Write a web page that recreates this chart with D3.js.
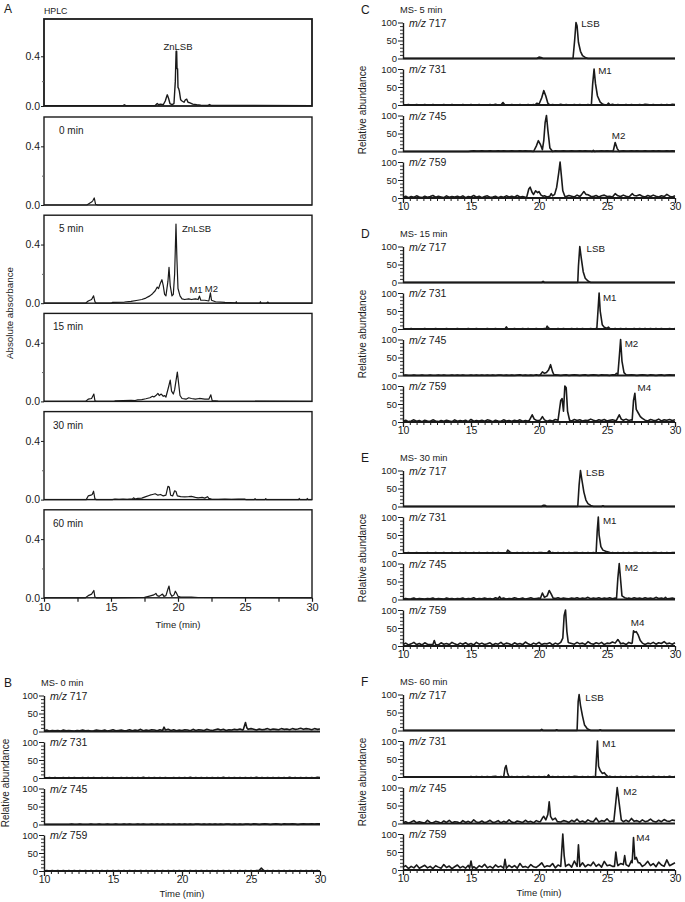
<!DOCTYPE html>
<html><head><meta charset="utf-8">
<script src="https://cdn.jsdelivr.net/npm/d3@7"></script>
<style>
body{margin:0;background:#fff}
svg{display:block}
text{font-family:"Liberation Sans",Arial,Helvetica,sans-serif;fill:#1a1a1a}
</style>
</head><body>
<svg id="chart" width="685" height="902"></svg>
<script>
// ================= DATA =================
// Panel A: HPLC traces, [time (min), absolute absorbance]
const hplcStandard = [[10,0.003],[15.9,0.003],[16.0,0.01],[16.1,0.003],[18.3,0.004],[18.45,0.02],[18.55,0.01],[18.7,0.015],[18.9,0.01],[19.05,0.04],[19.15,0.075],[19.2,0.09],[19.3,0.06],[19.4,0.02],[19.55,0.012],[19.7,0.02],[19.8,0.2],[19.86,0.44],[19.9,0.44],[19.93,0.3],[19.97,0.3],[20.0,0.15],[20.05,0.14],[20.1,0.12],[20.2,0.05],[20.3,0.04],[20.45,0.03],[20.55,0.05],[20.65,0.055],[20.75,0.03],[20.9,0.025],[21.1,0.015],[21.4,0.01],[21.7,0.006],[22.2,0.004],[22.35,0.012],[22.5,0.004],[30,0.003]];
const hplc0 = [[10,0],[13.2,0],[13.4,0.012],[13.55,0.02],[13.65,0.03],[13.75,0.048],[13.85,0.005],[14,0],[30,0]];
const hplc5 = [[10,0],[13.1,0],[13.3,0.015],[13.55,0.025],[13.7,0.05],[13.8,0.01],[13.9,0],[15.0,0],[15.1,0.005],[16,0.008],[16.5,0.012],[17.0,0.02],[17.3,0.025],[17.6,0.035],[17.9,0.05],[18.1,0.065],[18.3,0.085],[18.45,0.11],[18.55,0.1],[18.7,0.14],[18.8,0.16],[18.9,0.12],[19.0,0.06],[19.1,0.05],[19.25,0.15],[19.33,0.245],[19.42,0.12],[19.55,0.05],[19.65,0.06],[19.75,0.2],[19.85,0.54],[19.92,0.3],[20.0,0.1],[20.15,0.05],[20.3,0.03],[20.5,0.025],[20.8,0.03],[21.0,0.025],[21.3,0.03],[21.5,0.025],[21.6,0.048],[21.7,0.02],[22.0,0.02],[22.3,0.015],[22.42,0.07],[22.5,0.02],[22.8,0.01],[23.5,0.005],[24.3,0.003],[24.35,0.01],[24.4,0],[26.1,0],[26.15,0.01],[26.2,0],[26.6,0],[26.7,0.008],[26.8,0],[30,0]];
const hplc15 = [[10,0],[13.1,0],[13.3,0.015],[13.55,0.02],[13.72,0.05],[13.8,0.005],[13.9,0],[15.2,0],[15.3,0.003],[16.5,0.008],[16.8,0.006],[17.0,0.01],[17.3,0.012],[17.6,0.018],[17.9,0.025],[18.1,0.035],[18.2,0.03],[18.35,0.04],[18.5,0.055],[18.6,0.04],[18.75,0.05],[18.9,0.035],[19.0,0.04],[19.1,0.03],[19.3,0.1],[19.42,0.145],[19.52,0.07],[19.65,0.05],[19.75,0.08],[19.95,0.2],[20.05,0.12],[20.15,0.04],[20.3,0.02],[20.6,0.015],[20.8,0.025],[21.0,0.02],[21.3,0.015],[21.6,0.02],[22.0,0.015],[22.3,0.015],[22.45,0.045],[22.55,0.005],[23,0.002],[30,0]];
const hplc30 = [[10,0],[13.15,0],[13.3,0.025],[13.5,0.03],[13.6,0.035],[13.7,0.057],[13.8,0.005],[13.9,0],[15.1,0],[15.3,0.004],[15.6,0.001],[15.9,0.004],[16.2,0.001],[16.6,0.005],[16.7,0.012],[16.8,0.004],[17.0,0.008],[17.3,0.01],[17.6,0.02],[17.9,0.03],[18.1,0.035],[18.3,0.04],[18.5,0.03],[18.7,0.035],[18.9,0.025],[19.1,0.03],[19.25,0.09],[19.35,0.085],[19.45,0.03],[19.6,0.025],[19.75,0.06],[19.85,0.055],[19.95,0.025],[20.2,0.02],[20.5,0.018],[20.8,0.02],[21.0,0.022],[21.3,0.015],[21.5,0.012],[21.8,0.015],[22.0,0.01],[22.2,0.02],[22.3,0.008],[22.5,0.004],[23.0,0.001],[23.5,0.004],[24.0,0.001],[24.5,0.004],[25,0.003],[25.05,0],[25.7,0],[25.75,0.006],[25.8,0],[26.5,0],[26.55,0.006],[26.6,0],[29.0,0],[29.05,0.008],[29.1,0],[29.6,0],[29.65,0.008],[29.7,0],[30,0]];
const hplc60 = [[10,0],[13.1,0],[13.3,0.015],[13.55,0.025],[13.72,0.05],[13.8,0.005],[13.9,0],[15,0],[17.5,0.003],[17.8,0.01],[18.0,0.015],[18.2,0.02],[18.35,0.03],[18.45,0.015],[18.6,0.01],[18.75,0.02],[18.85,0.025],[18.95,0.01],[19.1,0.015],[19.25,0.06],[19.33,0.08],[19.42,0.03],[19.55,0.01],[19.7,0.02],[19.8,0.045],[19.9,0.03],[20.0,0.01],[20.2,0.005],[21.0,0.005],[21.5,0.002],[30,0]];
const hplcTags = ["", "0 min", "5 min", "15 min", "30 min", "60 min"];
const aTickLabels = [10, 15, 20, 25, 30];

// MS traces: baseline values on an even 10-30 min grid + peak segments [time, relative abundance %]
const b717Base = [2,4,1,3,2,3,1,4,2,3,2,1,3,2,4,2,3,1,2,4,3,2,4,1,3,5,2,3,4,2,3,5,2,4,3,6,2,4,3,5,4,2,5,3,4,6,3,5,2,4,3,5,4,2,6,3,5,4,3,6,4,3,5,7,4,6,3,5,4,6,5,7,4,6,5,8,6,4,7,5,6,8,5,7,6,5,8,6,7,5,8,6,7,9,6,8,7,5,8,6,7];
const b717Peaks = [[[18.6,3],[18.7,12],[18.8,4]],[[24.45,6],[24.6,25],[24.7,10],[24.8,6]]];
const b731Base = [1,0,1,0,1,0,0,1,0,1,0,1,0,0,1,0,1,0,1,0,0,1,0,1,0,1,0,0,1,0,1,0,1,0,1,0,2,0,1,0,1,0,1,0,1,0,0,1,0,1,0,1,0,2,0,1,0,1,0,1,0,1,0,1,0,2,0,1,0,1,0,1,0,1,0,1,0,2,0,1,0,1,0,1,0,1,0,1,0,2,0,1,0,1,0,1,0,1,0,2,1];
const b731Peaks = [];
const b745Base = [0,0,0,0,0,0,0,0,0,0,1,0,0,1,0,0,0,1,0,0,1,0,0,1,0,0,1,0,0,1,0,1,0,0,1,0,1,0,0,1,0,1,0,1,0,1,0,1,0,1,0,1,0,1,0,1,1,0,1,0,1,0,1,0,1,0,1,1,0,1,0,1,0,1,1,0,2,1,0,1,2,1,0,1,2,1,0,2,1,1,2,1,0,1,2,1,1,2,1,2,2];
const b745Peaks = [];
const b759Base = [0,1,0,1,0,1,0,1,0,1,0,1,0,1,0,1,0,1,0,1,0,1,0,1,0,1,0,1,0,1,0,1,0,1,0,1,0,1,0,1,0,1,0,1,0,1,0,1,0,1,0,1,0,1,0,1,0,1,0,1,0,1,0,1,0,1,0,1,0,1,0,1,0,1,0,1,0,1,0,1,0,1,0,1,0,1,0,1,0,1,0,1,0,1,0,1,0,1,0,1,0];
const b759Peaks = [[[25.6,2],[25.75,8],[25.9,2]]];

const c717Base = [0,0];
const c717Peaks = [[[19.85,0],[20.0,4],[20.15,3],[20.3,0]],[[22.5,0],[22.62,50],[22.72,100],[22.8,90],[22.9,45],[23.05,20],[23.2,8],[23.4,3],[23.6,0]]];
const c731Base = [1,0,1,0,0,1,0,0,1,0,0,1,0,0,0,1,0,0,1,0,0,0,1,0,0,1,0,0,1,0,0,0,1,0,2,0,0,1,0,0,1,0,0,1,0,0,1,0,1,0,1,0,0,1,0,1,0,0,2,0,1,0,0,1,0,1,0,0,1,0,1,0,1,0,0,1,0,2,0,1,0,0,1,0,1,0,0,1,0,2,1,0,1,0,0,1,0,1,0,2,1];
const c731Peaks = [[[17.2,0],[17.35,7],[17.5,0]],[[19.7,0],[19.85,5],[20.0,2],[20.2,20],[20.35,40],[20.5,25],[20.65,5],[20.8,0]],[[23.85,0],[23.95,60],[24.05,100],[24.15,60],[24.3,25],[24.5,8],[24.7,2],[24.9,0]],[[25.0,0],[25.1,5],[25.25,0]]];
const c745Base = [0,0,0,0,0,0,0,0,0,0,0,0,0,0,0,0,0,0,0,0,0,0,0,0,0,1,2,1,1,2,1,1,2,1,1,2,1,2,1,1,2,1,1,2,1,2,1,1,2,1,1,2,1,1,2,1,2,1,1,2,1,1,2,1,1,2,1,2,1,1,2,1,1,2,1,2,1,1,2,1,1,2,1,1,2,1,2,1,1,2,1,1,2,1,2,1,1,2,1,2,1];
const c745Peaks = [[[19.6,0],[19.8,15],[19.95,30],[20.1,20],[20.25,5],[20.35,30],[20.45,80],[20.55,100],[20.65,60],[20.8,10],[21.0,0]],[[23.9,0],[24.0,3],[24.1,0]],[[25.45,0],[25.6,25],[25.75,8],[25.9,0]]];
const c759Base = [2,5,1,4,2,6,3,1,5,2,4,7,2,5,3,1,6,2,4,3,5,2,6,1,4,3,7,2,5,1,4,6,2,3,5,1,4,2,6,3,5,2,7,3,4,2,5,8,3,5,4,2,6,3,7,4,5,8,3,6,4,7,5,3,8,4,6,3,9,5,4,7,3,6,8,4,5,3,12,6,4,8,5,3,7,4,6,9,5,3,7,4,8,5,3,6,4,10,5,3,6];
const c759Peaks = [[[19.1,3],[19.25,25],[19.35,30],[19.5,15],[19.6,10],[19.75,20],[19.9,15],[20.0,18],[20.15,8],[20.3,5]],[[20.8,5],[20.9,12],[21.0,6],[21.15,10],[21.3,30],[21.45,70],[21.55,100],[21.65,60],[21.75,20],[21.9,5]],[[23.1,8],[23.3,18],[23.45,10]],[[26.7,6],[26.85,12],[27.0,7]]];

const d717Base = [0,0];
const d717Peaks = [[[20.2,0],[20.3,3],[20.4,0]],[[22.85,0],[22.9,45],[23.0,100],[23.1,70],[23.25,30],[23.4,12],[23.6,4],[23.8,0]]];
const d731Base = [0,0,0,1,0,0,0,0,1,0,0,0,1,0,0,0,1,0,0,0,1,0,0,0,1,0,0,1,0,0,0,1,0,0,1,0,0,0,1,0,0,1,0,0,1,0,1,0,0,1,0,0,1,0,1,0,0,1,0,1,0,0,1,0,1,0,1,0,0,1,0,1,0,1,0,0,1,0,1,0,1,0,1,0,0,1,0,1,0,1,0,1,0,1,0,1,0,0,1,0,1];
const d731Peaks = [[[17.5,0],[17.6,6],[17.7,0]],[[20.5,0],[20.6,8],[20.7,3],[20.8,0]],[[24.25,0],[24.32,40],[24.42,100],[24.5,50],[24.65,12],[24.8,5],[25.0,2],[25.1,5],[25.25,0]]];
const d745Base = [0,1,0,0,1,0,0,1,0,0,1,0,0,1,0,1,0,0,1,0,1,0,1,0,0,1,0,1,0,1,0,1,0,1,0,1,1,0,1,0,1,0,1,2,0,1,0,1,0,2,0,1,2,0,1,0,2,1,0,1,2,0,1,2,1,0,1,2,0,1,2,1,0,2,1,1,0,2,1,0,1,2,0,1,2,1,0,1,2,1,0,2,1,0,1,2,0,1,2,1,1];
const d745Peaks = [[[20.1,2],[20.25,10],[20.4,6],[20.55,8],[20.7,15],[20.85,30],[21.0,10],[21.1,2]],[[25.6,2],[25.7,6],[25.8,3],[25.9,50],[26.0,100],[26.1,40],[26.25,8],[26.4,2]]];
const d759Base = [2,5,1,3,6,2,4,1,5,3,2,6,3,1,4,2,5,3,1,6,2,4,3,5,1,7,2,4,3,5,2,6,4,1,5,3,2,6,3,4,2,5,3,6,2,4,3,7,2,5,4,3,6,2,5,3,7,4,3,6,4,5,3,7,4,6,3,5,4,8,5,3,6,4,7,3,5,6,4,7,3,5,8,4,6,3,7,5,4,6,3,7,5,4,8,3,6,5,7,4,6];
const d759Peaks = [[[19.3,5],[19.5,20],[19.65,8]],[[20.1,6],[20.25,15],[20.4,6]],[[21.4,5],[21.6,60],[21.7,65],[21.8,30],[21.9,100],[22.0,95],[22.1,30],[22.25,5]],[[25.7,5],[25.9,20],[26.05,8]],[[26.85,5],[26.95,60],[27.05,80],[27.15,35],[27.3,25],[27.45,15],[27.6,10],[27.8,5]]];

const e717Base = [0,0];
const e717Peaks = [[[20.2,0],[20.3,3],[20.45,3],[20.55,0]],[[22.85,0],[22.95,60],[23.05,100],[23.15,75],[23.3,40],[23.45,18],[23.6,8],[23.8,3],[24.0,0]],[[24.6,0],[24.7,2],[24.8,0]]];
const e731Base = [0,0,1,0,0,1,0,0,0,1,0,0,1,0,0,1,0,0,1,0,0,1,0,1,0,0,1,0,1,0,0,1,0,1,0,1,0,0,1,0,1,0,1,0,1,0,1,0,1,0,1,1,0,1,0,1,0,1,0,1,0,1,0,1,1,0,1,0,1,0,1,0,1,0,1,1,0,1,0,1,0,1,0,1,0,1,1,0,1,0,1,0,1,1,0,1,0,1,0,1,1];
const e731Peaks = [[[17.6,0],[17.7,8],[17.85,3],[18.0,0]],[[20.6,0],[20.75,6],[20.9,0]],[[24.2,0],[24.28,60],[24.36,100],[24.42,50],[24.55,18],[24.7,8],[24.9,5],[25.1,3],[25.3,0]]];
const e745Base = [1,3,1,2,4,1,3,2,1,3,2,4,1,3,2,1,4,2,3,1,3,2,4,1,3,2,5,1,3,2,4,2,3,1,5,2,3,4,1,3,2,5,3,2,4,1,3,5,2,3,4,2,5,3,2,4,3,5,2,4,3,2,4,3,5,2,4,3,6,2,4,3,5,2,4,3,5,2,4,3,5,2,3,4,2,5,3,4,2,5,3,4,2,6,3,4,2,5,3,4,2];
const e745Peaks = [[[17.0,2],[17.1,8],[17.2,2]],[[20.1,3],[20.25,18],[20.4,6],[20.6,10],[20.75,25],[20.9,15],[21.05,3]],[[25.7,3],[25.8,60],[25.9,100],[26.0,55],[26.1,10],[26.3,5],[26.5,3]],[[29.2,2],[29.3,6],[29.4,2]]];
const e759Base = [4,8,3,6,10,4,7,3,9,5,4,8,6,3,9,5,7,4,10,6,3,8,5,9,4,7,3,10,5,8,4,6,9,3,7,5,10,4,8,6,3,9,5,7,4,11,6,3,8,5,10,4,7,6,9,3,8,5,11,6,4,9,7,5,10,6,8,4,12,7,5,9,6,10,4,8,7,11,5,9,6,8,4,10,7,5,9,6,11,4,8,6,10,5,9,7,12,6,8,5,9];
const e759Peaks = [[[12.2,4],[12.3,15],[12.4,4]],[[21.6,10],[21.75,22],[21.85,85],[21.95,100],[22.05,40],[22.15,10]],[[25.6,8],[25.8,18],[25.95,10]],[[26.85,8],[26.95,42],[27.05,38],[27.15,40],[27.3,30],[27.45,15],[27.6,8]]];

const f717Base = [0,0];
const f717Peaks = [[[20.1,0],[20.2,3],[20.3,0]],[[21.2,0],[21.3,2],[21.4,0]],[[22.8,0],[22.88,80],[22.95,100],[23.05,70],[23.2,40],[23.35,15],[23.55,5],[23.8,0]],[[24.4,0],[24.5,2],[24.6,0]]];
const f731Base = [0,0,0,0,0,0,0,0,0,0,0,0,0,0,0,0,0,0,0,0,0,0,0,0,0,1,0,1,0,1,0,1,0,1,2,0,1,0,1,0,1,0,1,0,1,0,2,0,1,0,1,0,1,0,2,1,0,1,0,1,0,1,0,2,1,0,1,0,1,0,1,0,1,0,1,0,2,0,1,0,1,0,1,0,1,0,2,0,1,0,1,0,2,0,1,0,1,0,2,0,1];
const f731Peaks = [[[17.4,0],[17.5,25],[17.58,32],[17.68,12],[17.8,0]],[[20.6,0],[20.7,6],[20.8,0]],[[24.15,0],[24.22,50],[24.3,100],[24.38,30],[24.5,18],[24.65,10],[24.8,12],[24.95,5],[25.1,0]]];
const f745Base = [2,5,1,4,8,2,5,3,1,9,3,2,6,4,1,7,3,9,2,5,4,1,8,3,6,2,10,4,3,7,2,5,9,3,4,8,2,6,3,10,4,2,7,5,3,9,4,6,2,8,5,3,10,4,7,3,12,5,4,8,6,3,9,5,12,4,7,3,10,6,5,15,4,8,6,13,5,7,4,12,6,4,9,5,14,6,8,4,10,5,7,12,6,4,9,5,11,7,6,10,8];
const f745Peaks = [[[20.1,5],[20.25,15],[20.35,20],[20.5,10],[20.65,25],[20.75,60],[20.85,20],[21.0,10],[21.2,15],[21.35,5]],[[25.5,5],[25.65,60],[25.75,100],[25.85,70],[25.95,40],[26.05,10],[26.2,5]]];
const f759Base = [8,12,4,10,6,14,5,9,13,6,10,4,12,8,5,15,7,11,4,9,14,6,10,5,13,7,9,4,12,8,16,6,10,5,14,8,11,6,9,13,7,12,5,18,8,10,6,15,9,7,13,20,8,12,10,18,6,14,22,9,12,16,8,25,10,14,20,9,15,12,22,10,16,8,24,12,14,10,28,12,18,15,22,10,26,14,12,20,10,15,24,12,18,9,22,14,10,28,12,16,20];
const f759Peaks = [[[14.9,5],[15.0,25],[15.1,5]],[[17.4,5],[17.5,30],[17.6,5]],[[21.6,10],[21.75,100],[21.85,40],[21.95,10]],[[22.8,10],[22.9,70],[23.0,10]],[[25.55,10],[25.65,50],[25.75,20]],[[26.2,15],[26.3,40],[26.4,15]],[[26.85,20],[26.95,90],[27.05,30],[27.15,35],[27.3,20]]];

const msIons = ["717", "731", "745", "759"];
const msYTicks = [0, 50, 100];
const msXTicks = [10, 15, 20, 25, 30];

// peak labels: [row, text, time, abundance]
const cPeakLabels = [[0,"LSB",23.1,97],[1,"M1",24.35,95],[2,"M2",25.35,45]];
const dPeakLabels = [[0,"LSB",23.5,95],[1,"M1",24.7,88],[2,"M2",26.3,90],[3,"M4",27.25,97]];
const ePeakLabels = [[0,"LSB",23.45,95],[1,"M1",24.7,90],[2,"M2",26.3,88],[3,"M4",26.75,64]];
const fPeakLabels = [[0,"LSB",23.4,92],[1,"M1",24.65,93],[2,"M2",26.2,90],[3,"M4",27.15,89]];
const bPeakLabels = [];
// HPLC labels: [panel index, text, time, absorbance, anchor]
const hplcPeakLabels = [[0,"ZnLSB",20.0,0.48,"middle"],[2,"ZnLSB",20.3,0.51,"start"],[2,"M1",20.85,0.095,"start"],[2,"M2",22.0,0.1,"start"]];

// ================= DRAWING =================
const svg = d3.select("#chart");
const ink = "#1a1a1a";

function buildTrace(base, groups){
  const n = base.length;
  let pts = base.map((v,i)=>[10 + i*20/(n-1), v]);
  groups.forEach(g=>{
    const a = g[0][0], b = g[g.length-1][0];
    pts = pts.filter(p=>p[0] < a || p[0] > b).concat(g);
  });
  return pts.sort((p,q)=>p[0]-q[0]);
}

// ---------- Panel A ----------
const xA = d3.scaleLinear().domain([10,30]).range([44,312]);
const hplcSeries = [hplcStandard, hplc0, hplc5, hplc15, hplc30, hplc60];
const aBoxes = [{top:19,bottom:106,ymax:0.7}];
for(let k=0;k<5;k++) aBoxes.push({top:117+k*98.2, bottom:205+k*98.2, ymax:0.6});
const tagX = [0,59,59,53,53,53];

svg.append("text").attr("x",4).attr("y",13).attr("font-size",12).text("A");
svg.append("text").attr("x",44).attr("y",14).attr("font-size",8.8).text("HPLC");

aBoxes.forEach((b,k)=>{
  const y = d3.scaleLinear().domain([0,b.ymax]).range([b.bottom,b.top]);
  const g = svg.append("g");
  g.append("rect").attr("x",xA(10)).attr("y",b.top).attr("width",xA(30)-xA(10)).attr("height",b.bottom-b.top)
    .attr("fill","none").attr("stroke",ink).attr("stroke-width",k===0?1.8:1.4);
  const ax = g.append("g").attr("transform",`translate(${xA(10)},0)`)
    .call(d3.axisLeft(y).tickValues([0,0.4]).tickFormat(d3.format(".1f")).tickSize(3).tickPadding(1));
  ax.select(".domain").remove();
  ax.selectAll("text").attr("font-size",10.5).attr("fill",ink).style("font-family","'Liberation Sans',Arial,sans-serif");
  ax.selectAll("line").attr("stroke",ink);
  const ax2 = g.append("g").attr("transform",`translate(${xA(10)},0)`)
    .call(d3.axisLeft(y).tickValues([0.2]).tickFormat("").tickSize(2));
  ax2.select(".domain").remove(); ax2.selectAll("line").attr("stroke","#666");
  g.append("path").datum(hplcSeries[k])
    .attr("d", d3.line().x(d=>xA(d[0])).y(d=>y(d[1])))
    .attr("fill","none").attr("stroke",ink).attr("stroke-width",k===0?1.4:1.2).attr("stroke-linejoin","round");
  if(hplcTags[k]) g.append("text").attr("x",tagX[k]).attr("y",b.top+17).attr("font-size",10).text(hplcTags[k]);
  hplcPeakLabels.filter(l=>l[0]===k).forEach(l=>{
    g.append("text").attr("x",xA(l[2])).attr("y",y(l[3])).attr("dy","0.35em")
      .attr("text-anchor",l[4]).attr("font-size",9.5).text(l[1]);
  });
  if(k===5){
    const xa = g.append("g").attr("transform",`translate(0,${b.bottom})`)
      .call(d3.axisBottom(xA).tickValues(d3.range(10,30.01,2.5)).tickSize(4).tickPadding(1)
        .tickFormat(d=> aTickLabels.includes(d) ? d : ""));
    xa.select(".domain").remove();
    xa.selectAll("text").attr("font-size",11).attr("fill",ink).style("font-family","'Liberation Sans',Arial,sans-serif");
    xa.selectAll("line").attr("stroke",ink).attr("stroke-width",1.2);
  }
});
svg.append("text").attr("x",178).attr("y",628).attr("text-anchor","middle").attr("font-size",9.5).text("Time (min)");
svg.append("text").attr("transform","translate(13,313) rotate(-90)").attr("text-anchor","middle").attr("font-size",9.8).text("Absolute absorbance");

// ---------- MS panels ----------
const msPanels = [
  {letter:"B", title:"MS- 0 min", x0:44, x1:320, bottom:871, lx:4, ylx:9,
   traces:[[b717Base,b717Peaks],[b731Base,b731Peaks],[b745Base,b745Peaks],[b759Base,b759Peaks]], labels:bPeakLabels, time:true},
  {letter:"C", title:"MS- 5 min", x0:403, x1:675, bottom:198, lx:361, ylx:366,
   traces:[[c717Base,c717Peaks],[c731Base,c731Peaks],[c745Base,c745Peaks],[c759Base,c759Peaks]], labels:cPeakLabels},
  {letter:"D", title:"MS- 15 min", x0:403, x1:675, bottom:422, lx:361, ylx:366,
   traces:[[d717Base,d717Peaks],[d731Base,d731Peaks],[d745Base,d745Peaks],[d759Base,d759Peaks]], labels:dPeakLabels},
  {letter:"E", title:"MS- 30 min", x0:403, x1:675, bottom:646, lx:361, ylx:366,
   traces:[[e717Base,e717Peaks],[e731Base,e731Peaks],[e745Base,e745Peaks],[e759Base,e759Peaks]], labels:ePeakLabels},
  {letter:"F", title:"MS- 60 min", x0:403, x1:675, bottom:870, lx:361, ylx:366,
   traces:[[f717Base,f717Peaks],[f731Base,f731Peaks],[f745Base,f745Peaks],[f759Base,f759Peaks]], labels:fPeakLabels, time:true}
];
const pitch = 46.5, rowH = 36;

msPanels.forEach(p=>{
  const x = d3.scaleLinear().domain([10,30]).range([p.x0,p.x1]);
  const g = svg.append("g");
  const topRow = p.bottom - 3*pitch - rowH;
  g.append("text").attr("x",p.lx).attr("y",topRow-9).attr("font-size",12).text(p.letter);
  g.append("text").attr("x",p.x0-3).attr("y",topRow-10).attr("font-size",9.3).text(p.title);
  g.append("text").attr("transform",`translate(${p.ylx},${p.bottom-88}) rotate(-90)`)
    .attr("text-anchor","middle").attr("font-size",10).text("Relative abundance");
  p.traces.forEach((tr,r)=>{
    const base = p.bottom - (3-r)*pitch;
    const y = d3.scaleLinear().domain([0,100]).range([base, base-rowH]);
    const data = buildTrace(tr[0], tr[1]);
    g.append("path").datum(data)
      .attr("d", d3.line().x(d=>x(d[0])).y(d=>y(d[1])))
      .attr("fill","none").attr("stroke",ink).attr("stroke-width",1.6).attr("stroke-linejoin","round");
    // baseline axis
    g.append("line").attr("x1",x(10)).attr("x2",x(30)).attr("y1",base).attr("y2",base)
      .attr("stroke",ink).attr("stroke-width",1.8);
    // y axis ruler
    const minor = g.append("g").attr("transform",`translate(${x(10)},0)`)
      .call(d3.axisLeft(y).tickValues(d3.range(10,100,10).filter(v=>v!==50)).tickFormat("").tickSize(3).tickSizeOuter(0));
    minor.select(".domain").remove(); minor.selectAll("line").attr("stroke",ink).attr("stroke-width",0.9);
    const ya = g.append("g").attr("transform",`translate(${x(10)},0)`)
      .call(d3.axisLeft(y).tickValues(msYTicks).tickSize(5).tickSizeOuter(0).tickPadding(1));
    ya.select(".domain").attr("stroke",ink).attr("stroke-width",1.4);
    ya.selectAll("line").attr("stroke",ink);
    ya.selectAll("text").attr("font-size",9.5).attr("fill",ink).style("font-family","'Liberation Sans',Arial,sans-serif");
    const lab = g.append("text").attr("x",x(10)+6).attr("y",y(100)+4).attr("font-size",10.5);
    lab.append("tspan").attr("font-style","italic").text("m/z");
    lab.append("tspan").text(" " + msIons[r]);
    p.labels.filter(l=>l[0]===r).forEach(l=>{
      g.append("text").attr("x",x(l[2])).attr("y",y(l[3])).attr("dy","0.35em").attr("font-size",9.8).text(l[1]);
    });
  });
  const xa = g.append("g").attr("transform",`translate(0,${p.bottom})`)
    .call(d3.axisBottom(x).tickValues(d3.range(10,30.01,0.5)).tickSize(3).tickPadding(2)
      .tickFormat(d=> msXTicks.includes(d) ? d : ""));
  xa.select(".domain").remove();
  xa.selectAll("line").attr("stroke",ink).attr("stroke-width",1);
  xa.selectAll(".tick").filter(d=>msXTicks.includes(d)).select("line").attr("y2",5).attr("stroke-width",1.3);
  xa.selectAll("text").attr("font-size",10.5).attr("fill",ink).style("font-family","'Liberation Sans',Arial,sans-serif");
  if(p.time) g.append("text").attr("x",(p.x0+p.x1)/2).attr("y",p.bottom+26).attr("text-anchor","middle").attr("font-size",9.5).text("Time (min)");
});
</script>
</body></html>
